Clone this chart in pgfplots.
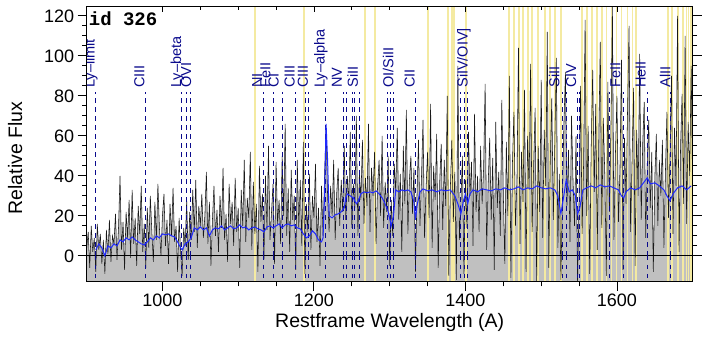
\documentclass[border=0pt]{standalone}
\usepackage{fontspec}
\setmainfont{Liberation Sans}
\newfontfamily\idfont{Liberation Mono}
\usepackage{pgfplots}
\usepackage{pgfplotstable}
\pgfplotsset{compat=1.18}

\definecolor{skyband}{RGB}{244,234,162}
\definecolor{lblblue}{RGB}{10,10,140}
\definecolor{fitblue}{RGB}{30,40,255}
\definecolor{fillgray}{RGB}{192,192,192}

% observed spectrum (2 A sampling)
\pgfplotstableread[row sep=\\]{
x y\\
900 4\\ 902 12\\ 904 -6\\ 906 15\\ 908 2\\ 910 9\\ 912 -8\\ 914 16\\ 916 3\\ 918 11\\
920 -4\\ 922 8\\ 924 -9\\ 926 13\\ 928 1\\ 930 18\\ 932 -3\\ 934 10\\ 936 6\\ 938 21\\
940 -2\\ 942 14\\ 944 40\\ 946 3\\ 948 17\\ 950 -7\\ 952 22\\ 954 9\\ 956 28\\ 958 -1\\
960 33\\ 962 6\\ 964 19\\ 966 -5\\ 968 25\\ 970 11\\ 972 35\\ 974 2\\ 976 16\\ 978 -6\\
980 24\\ 982 4\\ 984 30\\ 986 12\\ 988 -3\\ 990 27\\ 992 8\\ 994 36\\ 996 14\\ 998 0\\
1000 20\\ 1002 31\\ 1004 5\\ 1006 18\\ 1008 -4\\ 1010 26\\ 1012 10\\ 1014 34\\ 1016 7\\ 1018 15\\
1020 -8\\ 1022 19\\ 1024 2\\ 1026 -10\\ 1028 14\\ 1030 5\\ 1032 28\\ 1034 -2\\ 1036 22\\ 1038 8\\
1040 33\\ 1042 12\\ 1044 38\\ 1046 4\\ 1048 25\\ 1050 15\\ 1052 31\\ 1054 9\\ 1056 20\\ 1058 42\\
1060 6\\ 1062 27\\ 1064 -5\\ 1066 18\\ 1068 35\\ 1070 10\\ 1072 23\\ 1074 2\\ 1076 30\\ 1078 14\\
1080 44\\ 1082 8\\ 1084 21\\ 1086 -3\\ 1088 36\\ 1090 16\\ 1092 27\\ 1094 5\\ 1096 39\\ 1098 12\\
1100 24\\ 1102 -6\\ 1104 33\\ 1106 15\\ 1108 48\\ 1110 7\\ 1112 29\\ 1114 19\\ 1116 52\\ 1118 3\\
1120 37\\ 1122 11\\ 1124 26\\ 1126 -8\\ 1128 45\\ 1130 17\\ 1132 31\\ 1134 -2\\ 1136 40\\ 1138 13\\
1140 55\\ 1142 8\\ 1144 22\\ 1146 36\\ 1148 -4\\ 1150 47\\ 1152 16\\ 1154 28\\ 1156 6\\ 1158 50\\
1160 20\\ 1162 66\\ 1164 10\\ 1166 34\\ 1168 2\\ 1170 43\\ 1172 18\\ 1174 30\\ 1176 -7\\ 1178 48\\
1180 14\\ 1182 38\\ 1184 5\\ 1186 57\\ 1188 -9\\ 1190 26\\ 1192 12\\ 1194 41\\ 1196 3\\ 1198 30\\
1200 19\\ 1202 46\\ 1204 7\\ 1206 24\\ 1208 -5\\ 1210 35\\ 1212 10\\ 1214 40\\ 1216 64\\ 1218 30\\
1220 12\\ 1222 35\\ 1224 20\\ 1226 48\\ 1228 8\\ 1230 31\\ 1232 44\\ 1234 15\\ 1236 38\\ 1238 22\\
1240 55\\ 1242 18\\ 1244 40\\ 1246 27\\ 1248 62\\ 1250 14\\ 1252 36\\ 1254 24\\ 1256 70\\ 1258 10\\
1260 42\\ 1262 28\\ 1264 58\\ 1266 16\\ 1268 39\\ 1270 25\\ 1272 66\\ 1274 12\\ 1276 44\\ 1278 30\\
1280 52\\ 1282 6\\ 1284 35\\ 1286 48\\ 1288 20\\ 1290 60\\ 1292 14\\ 1294 37\\ 1296 22\\ 1298 50\\
1300 -5\\ 1302 28\\ 1304 10\\ 1306 46\\ 1308 32\\ 1310 64\\ 1312 18\\ 1314 41\\ 1316 2\\ 1318 55\\
1320 26\\ 1322 73\\ 1324 11\\ 1326 38\\ 1328 50\\ 1330 21\\ 1332 44\\ 1334 -8\\ 1336 30\\ 1338 58\\
1340 15\\ 1342 40\\ 1344 68\\ 1346 9\\ 1348 34\\ 1350 52\\ 1352 19\\ 1354 76\\ 1356 4\\ 1358 45\\
1360 28\\ 1362 61\\ 1364 -6\\ 1366 37\\ 1368 56\\ 1370 13\\ 1372 48\\ 1374 25\\ 1376 80\\ 1378 -10\\
1380 33\\ 1382 58\\ 1384 17\\ 1386 42\\ 1388 -12\\ 1390 95\\ 1392 8\\ 1394 27\\ 1396 50\\ 1398 -9\\
1400 38\\ 1402 14\\ 1404 62\\ 1406 30\\ 1408 47\\ 1410 5\\ 1412 71\\ 1414 22\\ 1416 40\\ 1418 12\\
1420 55\\ 1422 26\\ 1424 44\\ 1426 86\\ 1428 3\\ 1430 36\\ 1432 59\\ 1434 18\\ 1436 49\\ 1438 -7\\
1440 67\\ 1442 24\\ 1444 42\\ 1446 10\\ 1448 78\\ 1450 31\\ 1452 -4\\ 1454 57\\ 1456 20\\ 1458 90\\
1460 -11\\ 1462 46\\ 1464 72\\ 1466 15\\ 1468 38\\ 1470 104\\ 1472 6\\ 1474 52\\ 1476 27\\ 1478 83\\
1480 -8\\ 1482 60\\ 1484 33\\ 1486 96\\ 1488 12\\ 1490 45\\ 1492 74\\ 1494 -13\\ 1496 55\\ 1498 22\\
1500 88\\ 1502 9\\ 1504 63\\ 1506 35\\ 1508 112\\ 1510 -6\\ 1512 48\\ 1514 79\\ 1516 18\\ 1518 57\\
1520 99\\ 1522 4\\ 1524 41\\ 1526 -12\\ 1528 30\\ 1530 66\\ 1532 92\\ 1534 25\\ 1536 53\\ 1538 7\\
1540 70\\ 1542 38\\ 1544 15\\ 1546 60\\ 1548 -14\\ 1550 28\\ 1552 85\\ 1554 11\\ 1556 47\\ 1558 118\\
1560 20\\ 1562 65\\ 1564 -9\\ 1566 54\\ 1568 93\\ 1570 32\\ 1572 76\\ 1574 3\\ 1576 58\\ 1578 107\\
1580 14\\ 1582 69\\ 1584 40\\ 1586 -10\\ 1588 87\\ 1590 22\\ 1592 62\\ 1594 125\\ 1596 8\\ 1598 51\\
1600 80\\ 1602 17\\ 1604 44\\ 1606 98\\ 1608 -7\\ 1610 59\\ 1612 26\\ 1614 73\\ 1616 115\\ 1618 12\\
1620 49\\ 1622 84\\ 1624 -5\\ 1626 63\\ 1628 30\\ 1630 101\\ 1632 18\\ 1634 56\\ 1636 77\\ 1638 9\\
1640 46\\ 1642 68\\ 1644 24\\ 1646 52\\ 1648 -8\\ 1650 39\\ 1652 61\\ 1654 15\\ 1656 48\\ 1658 30\\
1660 58\\ 1662 4\\ 1664 42\\ 1666 72\\ 1668 19\\ 1670 50\\ 1672 90\\ 1674 11\\ 1676 64\\ 1678 35\\
1680 120\\ 1682 2\\ 1684 55\\ 1686 81\\ 1688 26\\ 1690 110\\ 1692 16\\ 1694 67\\ 1696 40\\ 1698 95\\
1700 30\\
}\spec

% smoothed template (blue)
\pgfplotstableread[row sep=\\]{
x y\\
912 3\\ 916 6\\ 920 4\\ 924 0\\ 928 5\\ 932 4\\ 936 6\\ 940 5\\ 944 8\\ 948 7\\
952 9\\ 956 8\\ 960 9.5\\ 964 8\\ 968 7\\ 972 6\\ 976 5.5\\ 980 7\\ 984 9\\ 988 8\\
992 10\\ 996 9\\ 1000 11\\ 1004 10.5\\ 1008 11\\ 1012 10\\ 1016 9.5\\ 1020 7\\ 1024 4\\ 1026 3\\
1030 6\\ 1034 7\\ 1038 9\\ 1042 14\\ 1046 13\\ 1050 14.5\\ 1054 13\\ 1058 14\\ 1062 10\\ 1066 13\\
1070 14\\ 1074 13.5\\ 1078 15\\ 1082 13\\ 1086 14\\ 1090 15\\ 1094 13.5\\ 1098 14\\ 1102 15.5\\ 1106 14\\
1110 14.5\\ 1114 13\\ 1118 14\\ 1122 14.5\\ 1126 13.5\\ 1130 13\\ 1134 12\\ 1138 14.5\\ 1142 15\\ 1146 14\\
1150 15\\ 1154 16\\ 1158 14\\ 1162 15.5\\ 1166 16\\ 1170 15\\ 1174 15.5\\ 1178 14\\ 1182 13.5\\ 1186 11\\
1190 9\\ 1194 10\\ 1198 12.5\\ 1202 11\\ 1206 8\\ 1210 7\\ 1212 9\\ 1214 30\\ 1216 66\\ 1218 48\\
1220 20\\ 1224 19\\ 1228 20.5\\ 1232 21\\ 1236 22\\ 1240 24\\ 1242 29\\ 1244 31\\ 1248 30\\ 1252 29\\
1256 26\\ 1258 27\\ 1262 31\\ 1266 32\\ 1270 31.5\\ 1274 32\\ 1278 31.5\\ 1282 32.5\\ 1286 31\\ 1290 29\\
1294 26\\ 1298 22\\ 1302 15\\ 1305 20\\ 1308 33\\ 1312 32\\ 1316 33\\ 1320 32.5\\ 1324 33\\ 1328 32\\
1332 27\\ 1334 18\\ 1336 25\\ 1340 32\\ 1344 33.5\\ 1350 32.5\\ 1356 33\\ 1362 32\\ 1368 33\\ 1374 32.5\\
1380 33\\ 1386 30\\ 1390 26\\ 1394 21\\ 1397 27\\ 1400 31\\ 1403 26\\ 1406 31\\ 1410 33\\ 1416 32\\
1422 33.5\\ 1428 33\\ 1434 32.5\\ 1440 33.5\\ 1446 33\\ 1452 34\\ 1458 33\\ 1464 33.5\\ 1470 34.5\\ 1476 33\\
1482 34\\ 1488 33.5\\ 1494 35\\ 1500 34\\ 1506 33.5\\ 1512 34\\ 1518 33\\ 1522 30\\ 1526 21\\ 1529 28\\
1533 38\\ 1537 32\\ 1541 33\\ 1545 30\\ 1548 21\\ 1551 24\\ 1555 33\\ 1560 34\\ 1566 35\\ 1572 34\\
1578 35.5\\ 1584 34.5\\ 1590 35\\ 1596 34\\ 1602 33\\ 1606 30\\ 1609 29\\ 1612 32\\ 1618 34\\ 1624 33\\
1630 34\\ 1636 37\\ 1640 39\\ 1644 36\\ 1650 36.5\\ 1656 35\\ 1662 33\\ 1666 30\\ 1670 27.5\\ 1674 31\\
1680 34\\ 1686 35\\ 1692 33\\ 1698 35\\
}\fit

% masked sky lines: position, top, bottom
\pgfplotstableread[row sep=\\]{
x top bot\\
1122.7 130 -20\\ 1186.3 130 -20\\ 1267.5 130 -20\\ 1280.6 130 -20\\ 1350 130 -20\\
1376.4 130 -20\\ 1381.7 130 -20\\ 1385.1 130 -20\\ 1400.5 130 -20\\
1457.2 130 -20\\ 1463.7 130 -20\\ 1470.3 130 -20\\ 1475.6 130 -20\\ 1482.2 130 -20\\
1487.4 130 -20\\ 1495.4 130 -20\\ 1504.6 130 -20\\ 1511.2 130 -20\\ 1517.8 130 -20\\ 1525.6 130 -20\\
1553.3 130 -20\\ 1559.9 130 -20\\ 1566.5 130 -20\\ 1573.1 130 -20\\ 1579.7 130 -20\\ 1586.2 130 -20\\
1592.8 130 -20\\ 1599.4 130 -20\\ 1606.0 130 -20\\ 1613.9 130 -20\\ 1620.5 130 -20\\ 1625.7 130 -20\\
1666.8 130 -20\\ 1672.1 130 -20\\ 1680 130 -20\\ 1686.6 130 -20\\ 1691.8 130 -20\\ 1694.5 130 -20\\
1697.1 130 -20\\ 1699 130 -20\\
}\sky

% line identifications: wavelength, top of dashes, bottom
\pgfplotstableread[row sep=\\]{
x top bot\\
912 82 -14\\ 977 82 -14\\ 1025.7 82 -14\\ 1031.9 82 -14\\ 1037.6 82 -14\\ 1133.6 82 -14\\
1146 82 -14\\ 1157.8 82 -14\\ 1175 82 -14\\ 1189.4 82 -14\\ 1192.8 82 -14\\ 1215.7 82 -14\\
1238.8 82 -14\\ 1242.8 82 -14\\ 1250.6 82 -14\\ 1253.8 82 -14\\ 1259.5 82 -14\\ 1296.5 82 -14\\
1301 82 -14\\ 1305 82 -14\\ 1334.5 82 -14\\ 1393.8 82 -14\\ 1398.5 82 -14\\ 1402.8 82 -14\\
1527.5 82 -14\\ 1533.2 82 -14\\ 1548.2 82 -14\\ 1550.8 82 -14\\ 1590.2 82 -14\\ 1608.5 82 -14\\
1640.4 82 -14\\ 1670.8 82 -14\\
}\ids

\begin{document}
\begin{tikzpicture}[
  idlbl/.style={rotate=90, anchor=base west, inner sep=0pt, text=lblblue,
    font=\fontsize{14.5}{15}\selectfont}]
\begin{axis}[
  scale only axis, width=606pt, height=275pt,
  xmin=900, xmax=1700, ymin=-13, ymax=124.5,
  axis on top,
  xtick={1000,1200,1400,1600}, minor x tick num=3,
  ytick={0,20,...,120}, minor y tick num=3,
  xtick pos=left, ytick pos=both,
  tick align=outside,
  major tick length=9pt, minor tick length=4.5pt,
  tick style={black, line width=0.9pt},
  axis line style={line width=1pt},
  /pgf/number format/assume math mode=true,
  /pgf/number format/1000 sep={},
  tick label style={font=\fontsize{18}{18}\selectfont},
  xlabel={Restframe Wavelength (A)},
  ylabel={Relative Flux},
  every axis x label/.style={at={(axis description cs:0.5,-0.149)}, anchor=center,
    font=\fontsize{19.5}{20}\selectfont},
  every axis y label/.style={at={(axis description cs:-0.118,0.45)}, anchor=center, rotate=90,
    font=\fontsize{19.5}{20}\selectfont},
]
% spectrum fill
\addplot[draw=none, fill=fillgray] table {\spec} -- (axis cs:1700,-20) -- (axis cs:900,-20) -- cycle;
% sky bands
\addplot[ycomb, skyband, line width=1.9pt] table[x=x, y=top] {\sky};
\addplot[ycomb, skyband, line width=1.9pt] table[x=x, y=bot] {\sky};
% spectrum
\addplot[black!90, line width=0.55pt] table {\spec};
% zero level
\addplot[black, line width=1.2pt] coordinates {(900,0) (1700,0)};
% line ids
\addplot[ycomb, lblblue, line width=0.9pt, dash pattern=on 4.5pt off 4.5pt] table[x=x, y=top] {\ids};
\addplot[ycomb, lblblue, line width=0.9pt, dash pattern=on 4.5pt off 4.5pt] table[x=x, y=bot] {\ids};
% template
\addplot[fitblue, line width=1pt] table {\fit};

\node[idlbl] at (axis cs:910.5,84) {Ly--limit};
\node[idlbl] at (axis cs:976,84) {CIII};
\node[idlbl] at (axis cs:1024.5,84) {Ly--beta};
\node[idlbl] at (axis cs:1038,84) {OVI};
\node[idlbl] at (axis cs:1131.5,84) {NI};
\node[idlbl] at (axis cs:1142.4,84) {FeII};
\node[idlbl] at (axis cs:1153.3,84) {CI};
\node[idlbl] at (axis cs:1174.5,84) {CIII};
\node[idlbl] at (axis cs:1192,84) {CIII};
\node[idlbl] at (axis cs:1214,84) {Ly--alpha};
\node[idlbl] at (axis cs:1237,84) {NV};
\node[idlbl] at (axis cs:1258,84) {SiII};
\node[idlbl] at (axis cs:1305,84) {OI/SiII};
\node[idlbl] at (axis cs:1333,84) {CII};
\node[idlbl] at (axis cs:1403,84) {SiIV/OIV]};
\node[idlbl] at (axis cs:1524,84) {SiII};
\node[idlbl] at (axis cs:1546,84) {CIV};
\node[idlbl] at (axis cs:1604.5,84) {FeII};
\node[idlbl] at (axis cs:1638,84) {HeII};
\node[idlbl] at (axis cs:1670.5,84) {AlII};

\node[anchor=north west, inner sep=0pt, font=\idfont\bfseries\fontsize{19}{19}\selectfont]
  at (rel axis cs:0,1) [xshift=2pt, yshift=-5pt] {id 326};
\end{axis}
% inward ticks along the top edge
\begin{axis}[
  scale only axis, width=606pt, height=275pt,
  xmin=900, xmax=1700, ymin=-13, ymax=124.5,
  hide y axis,
  xtick={1000,1200,1400,1600}, minor x tick num=3,
  xtick pos=right, tick align=inside, xticklabels={},
  major tick length=5pt, minor tick length=3pt,
  tick style={black, line width=0.9pt},
  axis line style={line width=1pt},
]
\end{axis}
\path (-86.7pt,-60pt) rectangle (622.3pt,281pt);
\end{tikzpicture}
\end{document}
